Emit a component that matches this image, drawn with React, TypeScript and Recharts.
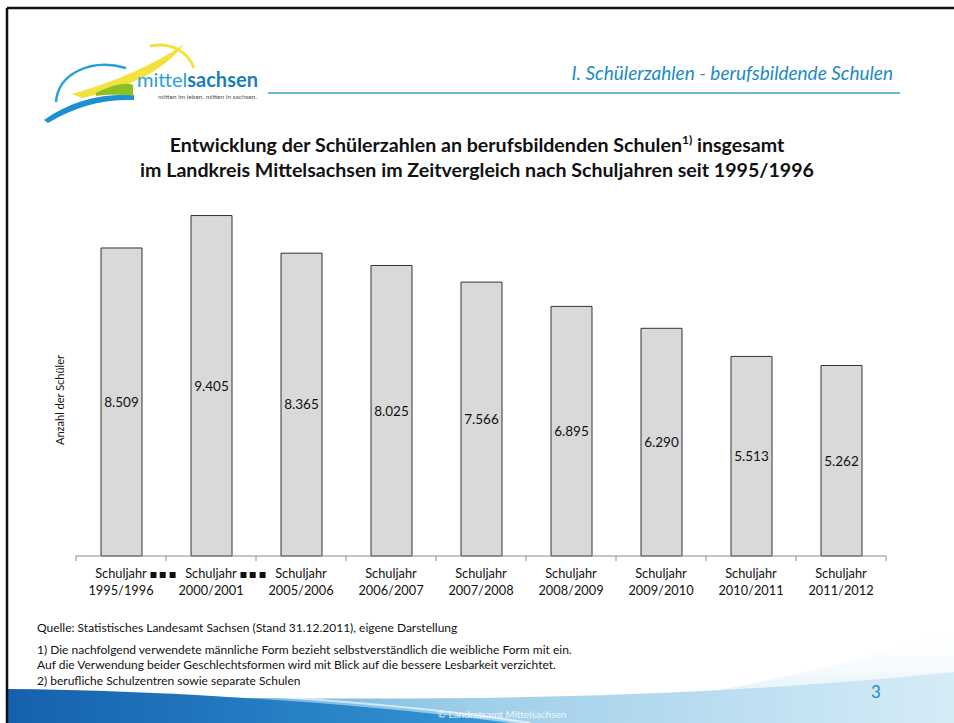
import * as React from "react";
import { BarChart, Bar, XAxis, YAxis, LabelList } from "recharts";

// Schuljahre (x categories)
const schuljahre = [
  "1995/1996",
  "2000/2001",
  "2005/2006",
  "2006/2007",
  "2007/2008",
  "2008/2009",
  "2009/2010",
  "2010/2011",
  "2011/2012",
];

// Anzahl der Schüler je Schuljahr
const schueler = [8509, 9405, 8365, 8025, 7566, 6895, 6290, 5513, 5262];

// breaks in the time axis (drawn as ■■■ after these categories)
const breaksAfter = [0, 1];

const yDomain: [number, number] = [0, 10000];

const data = schuljahre.map((jahr, i) => ({ jahr, value: schueler[i] }));

const W = 954;
const H = 723;
const M = { top: 194, right: 68, bottom: 117, left: 76 };
const X_AXIS_H = 50;
const BAND = (W - M.left - M.right) / schuljahre.length;

const FONT = "Lato, 'Open Sans', sans-serif";
const BLUE = "#1d8ac4";

// 8509 -> "8.509"
function fmtDe(v: unknown) {
  const n = Math.round(Number(v));
  if (!isFinite(n)) return "";
  const s = String(n);
  return s.replace(/\B(?=(\d{3})+(?!\d))/g, ".");
}

function SchuljahrTick(props: any) {
  const { x, y, payload, index } = props;
  const last = index === schuljahre.length - 1;
  return (
    <g>
      <line x1={x - BAND / 2} x2={x - BAND / 2} y1={y} y2={y + 5} stroke="#8a8a8a" />
      {last && <line x1={x + BAND / 2} x2={x + BAND / 2} y1={y} y2={y + 5} stroke="#8a8a8a" />}
      <text x={x} y={y + 22} textAnchor="middle" fontSize={12.8} fill="#111" fontFamily={FONT}>
        Schuljahr
      </text>
      <text x={x} y={y + 39} textAnchor="middle" fontSize={12.8} fill="#111" fontFamily={FONT}>
        {payload.value}
      </text>
      {breaksAfter.includes(index) &&
        [-15.5, -6.3, 3.6].map((dx) => (
          <rect key={dx} x={x + BAND / 2 + dx} y={y + 16} width={6} height={6} fill="#111" />
        ))}
    </g>
  );
}

function Logo() {
  return (
    <g>
      <path d="M56,102 C58,74 90,58 126,68" stroke="#2a9fd6" strokeWidth={2.5} fill="none" />
      <path d="M44,120 C70,101 102,93 134,95 L134,100 C104,99 76,106 48,123 Z" fill="#1e8fd0" />
      <path d="M72,94 C114,82 152,66 184,44 C164,72 124,89 82,98 Z" fill="#f2e23c" />
      <path d="M150,46 C172,42 188,52 194,68" stroke="#f2e23c" strokeWidth={3} fill="none" />
      <path d="M96,93 C112,85 126,82 133,85 L133,96 C118,94 104,95 96,96 Z" fill="#8cbf26" />
      <text x={137} y={87} fontSize={20} fontFamily={FONT} textLength={121} lengthAdjust="spacingAndGlyphs">
        <tspan fill="#2a9fd6">mittel</tspan>
        <tspan fill="#1a7fb5" fontWeight={700}>sachsen</tspan>
      </text>
      <text x={158} y={99} fontSize={5.5} fill="#555" fontFamily={FONT} textLength={99} lengthAdjust="spacingAndGlyphs">
        mitten im leben. mitten in sachsen.
      </text>
    </g>
  );
}

function Background() {
  return (
    <svg width={W} height={H} style={{ position: "absolute", left: 0, top: 0 }}>
      <defs>
        <linearGradient id="light" x1="0" y1="0" x2="1" y2="0">
          <stop offset="0" stopColor="#3d9bd6" />
          <stop offset="0.5" stopColor="#9fcfea" />
          <stop offset="1" stopColor="#d6ecf7" />
        </linearGradient>
        <linearGradient id="dark" x1="0" y1="0" x2="1" y2="0">
          <stop offset="0" stopColor="#1560ad" />
          <stop offset="1" stopColor="#3597d6" />
        </linearGradient>
        <linearGradient id="haze" x1="0" y1="1" x2="0" y2="0">
          <stop offset="0" stopColor="#c6e3f3" stopOpacity={1} />
          <stop offset="1" stopColor="#ffffff" stopOpacity={0} />
        </linearGradient>
      </defs>
      <rect x={0} y={0} width={W} height={H} fill="#fff" />
      <path d="M480,723 C700,700 850,668 954,628 L954,723 Z" fill="url(#haze)" />
      <path d="M7,723 L7,697 C250,694 560,712 954,672 L954,723 Z" fill="url(#light)" />
      <path d="M7,723 L7,689 C170,690 380,705 510,723 Z" fill="url(#dark)" />
      <path d="M7,687 C180,688 400,702 530,723" stroke="#fff" strokeWidth={2} strokeOpacity={0.6} fill="none" />
      {/* slide frame */}
      <line x1={7} x2={W} y1={8} y2={8} stroke="#111" strokeWidth={2.5} />
      <line x1={7} x2={7} y1={8} y2={H} stroke="#111" strokeWidth={2.5} />
      {/* header */}
      <line x1={268} x2={900} y1={93} y2={93} stroke="#6db6d9" strokeWidth={2} />
      <Logo />
    </svg>
  );
}

export default function App() {
  return (
    <div
      style={{
        position: "absolute",
        left: 0,
        top: 0,
        width: W,
        height: H,
        overflow: "hidden",
        fontFamily: FONT,
      }}
    >
      <Background />
      <svg width={W} height={H} style={{ position: "absolute", left: 0, top: 0 }}>
        <text x={893} y={80} textAnchor="end" fontSize={19} fontStyle="italic" fill={BLUE} fontFamily={FONT}>
          I. Schülerzahlen - berufsbildende Schulen
        </text>
        <text x={477} y={152} textAnchor="middle" fontSize={19.6} fontWeight={700} fill="#111" fontFamily={FONT}>
          Entwicklung der Schülerzahlen an berufsbildenden Schulen
          <tspan fontSize={12} dy={-8}>1)</tspan>
          <tspan dy={8}> insgesamt</tspan>
        </text>
        <text x={477} y={177} textAnchor="middle" fontSize={19.6} fontWeight={700} fill="#111" fontFamily={FONT}>
          im Landkreis Mittelsachsen im Zeitvergleich nach Schuljahren seit 1995/1996
        </text>
        <text
          x={0}
          y={0}
          transform="translate(64,400) rotate(-90)"
          textAnchor="middle"
          fontSize={11}
          fill="#111"
          fontFamily={FONT}
        >
          Anzahl der Schüler
        </text>
        <g fontSize={12} fill="#111" fontFamily={FONT}>
          <text x={37} y={632}>Quelle: Statistisches Landesamt Sachsen (Stand 31.12.2011), eigene Darstellung</text>
          <text x={37} y={654}>1) Die nachfolgend verwendete männliche Form bezieht selbstverständlich die weibliche Form mit ein.</text>
          <text x={37} y={669}>Auf die Verwendung beider Geschlechtsformen wird mit Blick auf die bessere Lesbarkeit  verzichtet.</text>
          <text x={37} y={685}>2) berufliche Schulzentren sowie separate Schulen</text>
        </g>
        <text x={876} y={698} textAnchor="middle" fontSize={17} fill={BLUE} fontFamily={FONT}>
          3
        </text>
        <text x={502} y={718} textAnchor="middle" fontSize={10} fill="#fff" fillOpacity={0.85} fontFamily={FONT}>
          © Landratsamt Mittelsachsen
        </text>
      </svg>
      <div style={{ position: "absolute", left: 0, top: 0 }}>
        <BarChart width={W} height={H} data={data} margin={M} barSize={41}>
          <YAxis hide domain={yDomain} type="number" />
          <XAxis
            dataKey="jahr"
            height={X_AXIS_H}
            interval={0}
            axisLine={{ stroke: "#8a8a8a" }}
            tickLine={false}
            tickSize={0}
            tickMargin={0}
            tick={<SchuljahrTick />}
          />
          <Bar dataKey="value" fill="#d9d9d9" stroke="#333" strokeWidth={1} isAnimationActive={false}>
            <LabelList
              dataKey="value"
              position="center"
              formatter={fmtDe}
              fontSize={13.5}
              fill="#111"
              fontFamily={FONT}
            />
          </Bar>
        </BarChart>
      </div>
    </div>
  );
}
